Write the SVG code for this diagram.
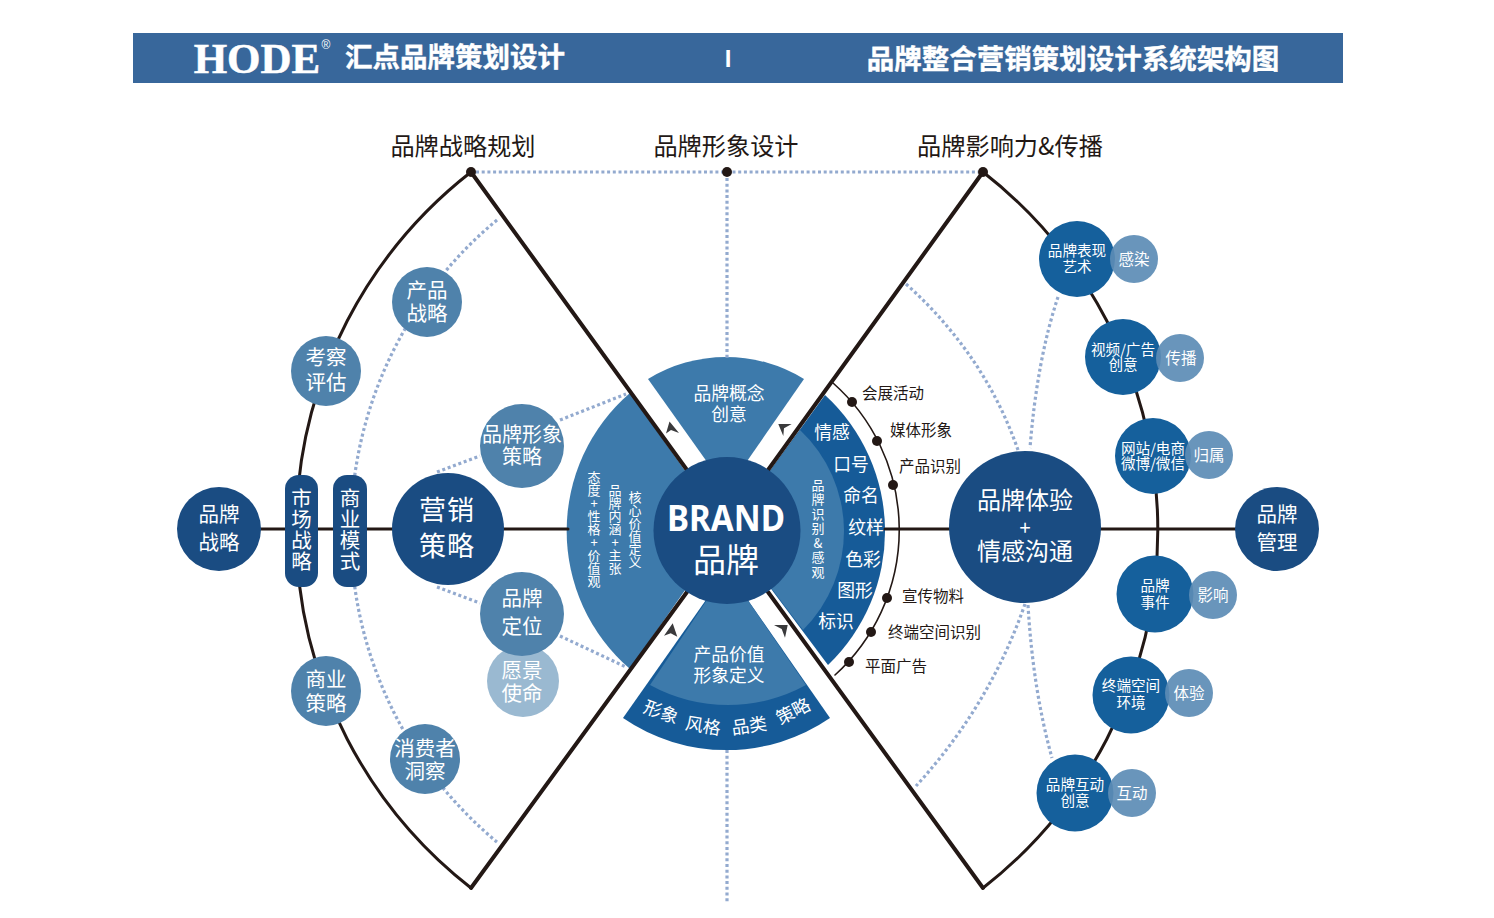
<svg xmlns="http://www.w3.org/2000/svg" width="1494" height="918" viewBox="0 0 1494 918">
<style>
text{font-family:"Noto Sans CJK SC","Noto Sans",sans-serif;fill:#fff;text-anchor:middle}
.k{fill:#231815}
.t{font-size:24.2px}
.l{font-size:15.5px;text-anchor:start}
.hd{font-size:27.5px;font-weight:700;stroke:#fff;stroke-width:.4}
.a{font-size:20.5px}.b{font-size:14.6px}.s{font-size:15.5px}.w{font-size:17.8px}
.v{font-size:13px;writing-mode:vertical-rl;text-orientation:upright}
.d{fill:#1a4c82}.m{fill:#4f82ab}.r{fill:#15609c}.x{fill:#5c8cb5;opacity:.92}
.ln{fill:none;stroke:#231815;stroke-linecap:round}
.dot{fill:none;stroke:#93aacf;stroke-width:3.2;stroke-dasharray:3 2.7}
.pt{fill:#231815}
</style>
<rect width="1494" height="918" fill="#fff"/>
<g id="header">
<rect x="133" y="33" width="1210" height="50" fill="#38679b"/>
<text x="257" y="73" style="font-family:'Liberation Serif',serif;font-weight:700;font-size:43px;stroke:#fff;stroke-width:.5">HODE</text>
<text x="326" y="49" style="font-family:'Liberation Sans',sans-serif;font-size:12px">®</text>
<text x="455" y="67" class="hd">汇点品牌策划设计</text>
<text x="728" y="67" style="font-family:'Liberation Sans',sans-serif;font-weight:700;font-size:24px">I</text>
<text x="1073" y="69" class="hd">品牌整合营销策划设计系统架构图</text>
</g>
<g id="section-titles">
<text x="463" y="155" class="t k">品牌战略规划</text>
<text x="726" y="155" class="t k">品牌形象设计</text>
<text x="1010" y="155" class="t k">品牌影响力&amp;传播</text>
</g>
<g id="sectors">
<path id="sector-left" d="M630,393A182,182 0 0 0 630,669L727,530Z" fill="#3d7aab"/>
<path id="sector-top" d="M648,379A149,149 0 0 1 804,379L727,490Z" fill="#3d7aab"/>
<path id="sector-bottom-outer" d="M623,718A183,183 0 0 0 830,718L727,570Z" fill="#165b98"/>
<path id="sector-bottom-inner" d="M650,685A162,162 0 0 0 806,685L727,570Z" fill="#3d7aab"/>
<path id="sector-right-outer" d="M825,395A185,185 0 0 1 828,665L727,530Z" fill="#165b98"/>
<path id="sector-right-inner" d="M800,430A139,139 0 0 1 803,630L727,530Z" fill="#3d7aab"/>
</g>
<g id="connectors">
<path class="dot" d="M476,172H978M727,178V358M727,750V902"/>
<path class="dot" d="M497,220A404,404 0 0 0 497,842"/>
<path class="dot" d="M437,472L480,456M560,420L626,394M437,587L480,603M560,636L626,667"/>
<path class="dot" d="M906,284Q985,355 1018,450M1058,297Q1037,360 1030,448M1025,604Q990,705 916,786M1028,605Q1033,690 1052,758"/>
<path class="ln" stroke-width="3" d="M219,529H568M885,529H1277"/>
<path class="ln" stroke-width="3" d="M471,172A454,454 0 0 0 471,888M983,172A454,454 0 0 1 983,888"/>
<path class="ln" stroke-width="4" d="M471,172L687,470M983,172L768,470M471,888L687,592M983,888L768,592"/>
<path class="ln" stroke-width="1.6" d="M833,383A196,196 0 0 1 835,675"/>
<circle class="pt" cx="471" cy="172" r="5"/><circle class="pt" cx="727" cy="172" r="5"/><circle class="pt" cx="983" cy="172" r="5"/>
<circle class="pt" cx="852" cy="402" r="5"/><circle class="pt" cx="877" cy="441" r="5"/><circle class="pt" cx="893" cy="485" r="5"/>
<circle class="pt" cx="887" cy="598" r="5"/><circle class="pt" cx="871" cy="632" r="5"/><circle class="pt" cx="849" cy="662" r="5"/>
<polygon fill="#3a3a3c" points="669.5,421.5 679,433 671,430 666,433.5"/>
<polygon fill="#3a3a3c" points="778.3,424 791.7,424 784,428.3 783.3,436"/>
<polygon fill="#3a3a3c" points="672.7,623.3 677.3,636.7 670.7,633.3 664,635.7"/>
<polygon fill="#3a3a3c" points="774,625 787.7,625 785,637.7 781.7,629"/>
</g>
<g id="sector-labels">
<text x="729" y="400" class="w">品牌概念</text><text x="729" y="421" class="w">创意</text>
<text x="729" y="661" class="w">产品价值</text><text x="729" y="682" class="w">形象定义</text>
<text transform="translate(659,718) rotate(20)" class="w">形象</text>
<text transform="translate(702,732) rotate(10)" class="w">风格</text>
<text transform="translate(750,732) rotate(-8)" class="w">品类</text>
<text transform="translate(796,717) rotate(-27)" class="w">策略</text>
<text x="832" y="439" class="w">情感</text><text x="851" y="471" class="w">口号</text><text x="861" y="502" class="w">命名</text><text x="866" y="534" class="w">纹样</text><text x="863" y="566" class="w">色彩</text><text x="855" y="597" class="w">图形</text><text x="836" y="628" class="w">标识</text>
<text x="818" y="529" class="v" style="letter-spacing:1.5px">品牌识别&amp;感观</text>
<text x="635" y="530" class="v">核心价值定义</text>
<text x="615" y="529" class="v">品牌内涵+主张</text>
<text x="594" y="529" class="v">态度+性格+价值观</text>
</g>
<g id="side-labels">
<text x="862" y="399" class="l k">会展活动</text>
<text x="890" y="436" class="l k">媒体形象</text>
<text x="899" y="472" class="l k">产品识别</text>
<text x="902" y="602" class="l k">宣传物料</text>
<text x="888" y="638" class="l k">终端空间识别</text>
<text x="865" y="672" class="l k">平面广告</text>
</g>
<g id="node-brand"><circle class="d" cx="727" cy="530.500" r="73.500"/>
<text x="726" y="531" textLength="118" lengthAdjust="spacingAndGlyphs" style="font-family:'Noto Sans',sans-serif;font-weight:700;font-size:35px">BRAND</text>
<text x="726" y="572" style="font-size:33px">品牌</text></g>
<g id="node-brand-strategy"><circle class="d" cx="219" cy="529" r="42"/><text x="219" y="522" class="a">品牌</text><text x="219" y="550" class="a">战略</text></g>
<g id="node-market"><rect class="d" x="285" y="475" width="33" height="112" rx="14"/><text x="301.500" y="530" style="font-size:20.500px;writing-mode:vertical-rl;letter-spacing:.5px">市场战略</text></g>
<g id="node-business-model"><rect class="d" x="333" y="475" width="34" height="112" rx="14"/><text x="350" y="530" style="font-size:20.500px;writing-mode:vertical-rl;letter-spacing:.5px">商业模式</text></g>
<g id="node-marketing"><circle class="d" cx="448" cy="529" r="56"/><text x="447" y="520" style="font-size:27px;letter-spacing:1px">营销</text><text x="447" y="556" style="font-size:27px;letter-spacing:1px">策略</text></g>
<g id="node-review"><circle class="m" cx="326" cy="371" r="35"/><text x="326" y="365" class="a">考察</text><text x="326" y="390" class="a">评估</text></g>
<g id="node-product"><circle class="m" cx="427" cy="302" r="35"/><text x="427" y="298" class="a">产品</text><text x="427" y="321" class="a">战略</text></g>
<g id="node-image"><circle class="m" cx="522" cy="446" r="42"/><text x="522" y="442" style="font-size:20px">品牌形象</text><text x="522" y="464" style="font-size:20px">策略</text></g>
<g id="node-vision"><circle fill="#9ab9d1" cx="523" cy="681" r="36"/><text x="522" y="678" class="a">愿景</text><text x="522" y="701" class="a">使命</text></g>
<g id="node-position"><circle class="m" cx="522" cy="614" r="42"/><text x="522" y="606" class="a">品牌</text><text x="522" y="634" class="a">定位</text></g>
<g id="node-commerce"><circle class="m" cx="326" cy="691" r="35"/><text x="326" y="687" class="a">商业</text><text x="326" y="711" class="a">策略</text></g>
<g id="node-consumer"><circle class="m" cx="425" cy="759" r="35"/><text x="425" y="756" class="a">消费者</text><text x="425" y="779" class="a">洞察</text></g>
<g id="node-experience"><circle class="d" cx="1025" cy="527" r="76"/><text x="1025" y="509" style="font-size:24px">品牌体验</text><text x="1025" y="535" style="font-size:20px">+</text><text x="1025" y="560" style="font-size:24px">情感沟通</text></g>
<g id="node-manage"><circle class="d" cx="1277" cy="529" r="42"/><text x="1277" y="522" class="a">品牌</text><text x="1277" y="550" class="a">管理</text></g>
<g id="node-art"><circle class="r" cx="1077" cy="259" r="38"/><circle class="x" cx="1134" cy="259" r="24"/><text x="1077" y="256" class="b">品牌表现</text><text x="1077" y="272" class="b">艺术</text><text x="1134" y="265" class="s">感染</text></g>
<g id="node-video"><circle class="r" cx="1123" cy="357" r="38"/><circle class="x" cx="1180" cy="358" r="24"/><text x="1123" y="355" class="b">视频/广告</text><text x="1123" y="370" class="b">创意</text><text x="1181" y="364" class="s">传播</text></g>
<g id="node-web"><circle class="r" cx="1153" cy="456" r="38"/><circle class="x" cx="1209" cy="455" r="24"/><text x="1153" y="454" class="b">网站/电商</text><text x="1153" y="469" class="b">微博/微信</text><text x="1209" y="461" class="s">归属</text></g>
<g id="node-event"><circle class="r" cx="1155" cy="594" r="38.500"/><circle class="x" cx="1213" cy="595" r="24"/><text x="1155" y="591" class="b">品牌</text><text x="1155" y="608" class="b">事件</text><text x="1213" y="601" class="s">影响</text></g>
<g id="node-space"><circle class="r" cx="1131" cy="695" r="38.500"/><circle class="x" cx="1189" cy="693" r="24"/><text x="1131" y="691" class="b">终端空间</text><text x="1131" y="708" class="b">环境</text><text x="1189" y="699" class="s">体验</text></g>
<g id="node-interact"><circle class="r" cx="1075" cy="793" r="38.500"/><circle class="x" cx="1132" cy="793" r="24"/><text x="1075" y="790" class="b">品牌互动</text><text x="1075" y="806" class="b">创意</text><text x="1132" y="799" class="s">互动</text></g>
</svg>
